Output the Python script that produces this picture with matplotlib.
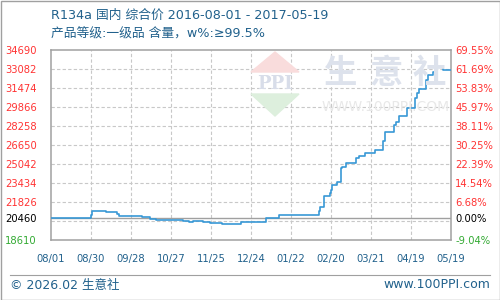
import matplotlib
matplotlib.use("Agg")
import matplotlib.pyplot as plt
from matplotlib.patches import Polygon, Rectangle
import numpy as np

plt.rcParams['font.family'] = ['DejaVu Sans', 'Noto Sans CJK SC']

# ---- data ----
title_line1 = "R134a 国内 综合价 2016-08-01 - 2017-05-19"
title_line2 = "产品等级:一级品 含量，w%:≥99.5%"
x_tick_labels = ["08/01", "08/30", "09/28", "10/27", "11/25", "12/24",
                 "01/22", "02/20", "03/21", "04/19", "05/19"]
total_days = 290  # 2016-08-01 .. 2017-05-19 (axis span)
step_days = [0, 29, 30, 40, 48, 49, 66, 72, 76, 96,
             100, 103, 110, 115, 124, 138, 156, 165, 194, 195,
             198, 202, 203, 204, 207, 210, 211, 214, 221, 223,
             228, 229, 235, 241, 242, 249, 250, 252, 258, 264,
             265, 267, 272, 273, 277, 279, 280, 284, 290]
prices = [20460, 20735, 21040, 20955, 20840, 20640, 20530, 20360, 20280, 20190,
          20110, 20190, 20110, 20020, 19940, 20110, 20460, 20700, 21040, 21380,
          22310, 22560, 22840, 23260, 23540, 24700, 24810, 25100, 25550, 25720,
          25950, 26000, 26230, 26990, 27730, 28340, 28620, 29130, 29810, 30650,
          31030, 31390, 32150, 32570, 32800, 33020, 33340, 33000, 33000]
base_price = 20460
y_top = 34690
y_bottom = 18610
y_step = 1608
upper_ticks = [34690, 33082, 31474, 29866, 28258, 26650, 25042, 23434, 21826]

# ---- style ----
blue_txt = '#21618c'
red = '#ff3333'
green = '#33aa33'
line_c = '#3898d6'
grid_c = '#c8c8c8'
frame_c = '#a0a0a0'

fig = plt.figure(figsize=(5, 3), dpi=100)
ax = fig.add_axes([51/500, 60/300, 400/500, 190/300])
ax.set_xlim(0, total_days)
ax.set_ylim(y_bottom, y_top)

# watermark (behind everything)
wm = '#dde2ec'
for txt, xp in zip("生意社", [341, 386, 429]):
    fig.text(xp/500, 1 - 73/300, txt, fontsize=24, color=wm, ha='center', va='center',
             family='Noto Sans CJK SC', fontweight='bold', zorder=0)
fig.text(386/500, 1 - 107/300, "WWW.100PPI.COM", fontsize=10, color='#e8e8e8',
         ha='center', va='center', zorder=0)
fig.patches.append(Polygon([[251/500, 1-72/300], [275/500, 1-52/300], [299/500, 1-72/300]],
                           closed=True, transform=fig.transFigure, color='#f9dcdc', zorder=0))
fig.patches.append(Polygon([[251/500, 1-94/300], [275/500, 1-116/300], [299/500, 1-94/300]],
                           closed=True, transform=fig.transFigure, color='#ddefdd', zorder=0))
fig.text(275/500, 1 - 84/300, "PPI", fontsize=13, color='#d8dde9', ha='center', va='center',
         family='DejaVu Serif', fontweight='bold', zorder=0)
ax.set_facecolor('none')

# grid
grid_vals = np.arange(y_top - y_step, y_bottom, -y_step)
for gv in grid_vals:
    ax.axhline(gv, color=grid_c, lw=0.8, ls=(0, (3, 2)), zorder=1)
x_ticks = np.linspace(0, total_days, len(x_tick_labels))
for xv in x_ticks[1:-1]:
    ax.axvline(xv, color=grid_c, lw=0.8, ls=(0, (3, 2)), zorder=1)
ax.axhline(base_price, color=frame_c, lw=1.0, zorder=2)

ax.plot(step_days, prices, drawstyle='steps-post', color=line_c, lw=1.2, zorder=3)

for s in ax.spines.values():
    s.set_color(frame_c)
    s.set_linewidth(1.1)

# y ticks
left_ticks = upper_ticks + [base_price, y_bottom]
ax.set_yticks(left_ticks)
ax.set_yticklabels([str(v) for v in left_ticks])
ax.tick_params(axis='y', length=0, pad=33, labelsize=7.2)
colors = [red] * len(upper_ticks) + ['black', green]
for lab, c in zip(ax.get_yticklabels(), colors):
    lab.set_ha('left')
    lab.set_color(c)

ax2 = ax.twinx()
ax2.set_ylim(y_bottom, y_top)
ax2.set_yticks(left_ticks)
ax2.set_yticklabels(["%.2f%%" % ((v / base_price - 1) * 100) for v in left_ticks])
ax2.tick_params(axis='y', length=0, pad=3, labelsize=7.2)
for lab, c in zip(ax2.get_yticklabels(), colors):
    lab.set_color(c)
for s in ax2.spines.values():
    s.set_visible(False)

ax.set_xticks(x_ticks)
ax.set_xticklabels(x_tick_labels)
ax.tick_params(axis='x', length=0, pad=10, labelsize=7.2, labelcolor=blue_txt)

# titles
fig.text(51/500, 1 - 15/300, title_line1, fontsize=9.2, color=blue_txt, ha='left', va='center')
fig.text(51/500, 1 - 34/300, title_line2, fontsize=9.2, color=blue_txt, ha='left', va='center')

# footer
fig.add_artist(plt.Line2D([10/500, 490/500], [1 - 275/300, 1 - 275/300],
                          color=frame_c, lw=0.8, transform=fig.transFigure))
fig.text(10/500, 1 - 285/300, "© 2026.02 生意社", fontsize=9, color=blue_txt, ha='left', va='center')
fig.text(490/500, 1 - 285/300, "www.100PPI.com", fontsize=9, color=blue_txt, ha='right', va='center')
fig.patches.append(Rectangle((0.5/500, 0.5/300), 499/500, 299/300, transform=fig.transFigure,
                             fill=False, edgecolor=frame_c, lw=1.0))

fig.savefig("out.png", dpi=100)
